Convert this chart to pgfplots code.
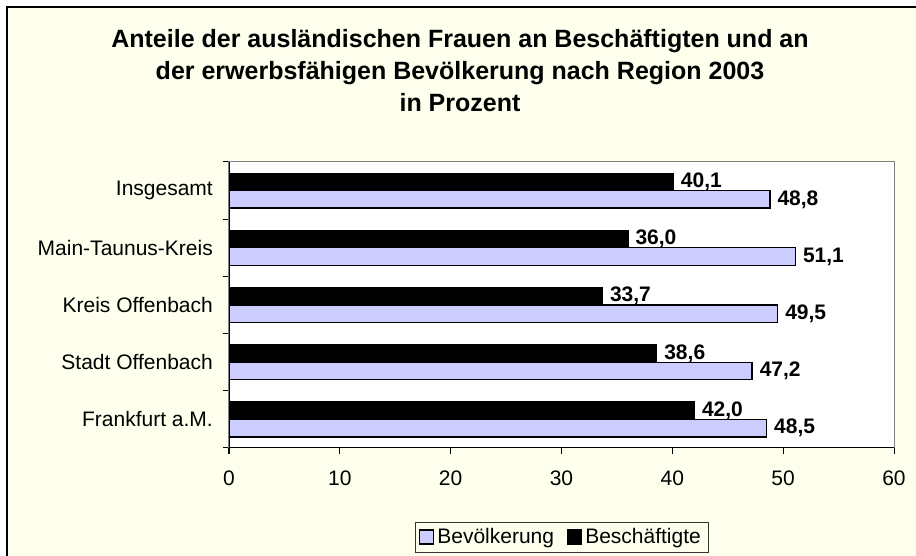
\documentclass[border=0pt]{standalone}
\usepackage{fontspec}
\setmainfont{Liberation Sans}
\usepackage{pgfplots}
\pgfplotsset{compat=1.18}
\definecolor{ivory}{RGB}{255,255,238}
\definecolor{lav}{RGB}{204,204,255}
\begin{document}
\begin{tikzpicture}[x=1pt,y=1pt]
\useasboundingbox (0,0) rectangle (916,556);
\fill[white] (0,0) rectangle (916,556);
\fill[ivory] (7,0) rectangle (916,549);
\draw[black, line width=1.5pt] (7,0) -- (7,549) -- (916,549);
\node[anchor=base, font=\bfseries\fontsize{25}{33}\selectfont] at (460,508) {Anteile der ausländischen Frauen an Beschäftigten und an};
\node[anchor=base, font=\bfseries\fontsize{25}{33}\selectfont] at (460,476) {der erwerbsfähigen Bevölkerung nach Region 2003};
\node[anchor=base, font=\bfseries\fontsize{25}{33}\selectfont] at (460,444) {in Prozent};
\begin{axis}[
  at={(229pt,108pt)}, anchor=south west,
  scale only axis, width=665pt, height=286pt,
  xbar, bar width=17.5pt,
  xmin=0, xmax=60, ymin=-0.5, ymax=4.5,
  axis background/.style={fill=white},
  axis line style={draw=gray, line width=1pt},
  xtick={0,10,...,60},
  xtick pos=lower, ytick pos=left,
  tick align=outside, major tick length=6pt,
  tick style={black, line width=1pt},
  ytick={-0.5,0.5,1.5,2.5,3.5,4.5},
  y tick label as interval,
  yticklabels={Frankfurt a.M., Stadt Offenbach, Kreis Offenbach, Main-Taunus-Kreis, Insgesamt},
  yticklabel style={font=\fontsize{21}{25}\selectfont, inner sep=0pt, anchor=east, xshift=-10pt},
  xticklabel style={font=\fontsize{21}{25}\selectfont, inner sep=0pt, anchor=north, yshift=-17pt},
  /pgf/number format/assume math mode=true,
  nodes near coords={\pgfmathprintnumber[fixed, fixed zerofill, precision=1, use comma, assume math mode=true]{\pgfplotspointmeta}},
  nodes near coords style={font=\bfseries\fontsize{21}{25}\selectfont, anchor=west, inner sep=0pt, xshift=7pt, text=black},
  legend columns=2,
  legend style={at={(0.5,-0.311)}, anchor=center, draw=black!80, fill=ivory, font=\fontsize{21}{25}\selectfont,
    inner xsep=4pt, inner ysep=3.5pt, /tikz/every even column/.append style={column sep=10pt},
    nodes={inner sep=3pt}},
  legend image code/.code={\draw[#1, line width=1.2pt] (0pt,-7pt) rectangle (14pt,7pt);},
]
\addplot[fill=lav, draw=black, line width=1.3pt, bar shift=-8.75pt] coordinates {(48.5,0) (47.2,1) (49.5,2) (51.1,3) (48.8,4)};
\addlegendentry{Bevölkerung}
\addplot[fill=black, draw=black, line width=1pt, bar shift=8.75pt] coordinates {(42.0,0) (38.6,1) (33.7,2) (36.0,3) (40.1,4)};
\addlegendentry{Beschäftigte}
\draw[black, line width=1.2pt] (rel axis cs:0,1) -- (rel axis cs:0,0) -- (rel axis cs:1,0);
\end{axis}
\end{tikzpicture}
\end{document}
